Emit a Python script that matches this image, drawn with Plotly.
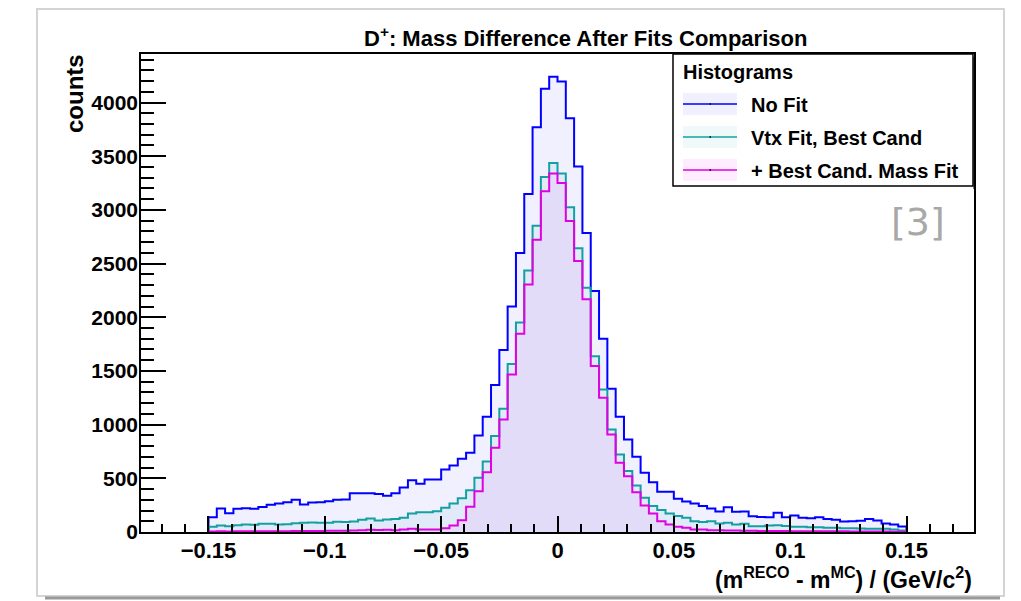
import numpy as np
import plotly.graph_objects as go

# ---------------- data ----------------
x_min, x_max, n_bins = -0.15, 0.15, 84

no_fit = [138, 219, 175, 216, 222, 216, 234, 253, 266, 278, 300, 256, 275, 278, 287, 300,
          303, 360, 362, 362, 354, 337, 362, 414, 483, 449, 489, 489, 582, 620, 682, 738,
          899, 1073, 1368, 1694, 2101, 2598, 3148, 3769, 4129, 4241, 4195, 3853, 3405, 2784,
          2244, 1800, 1334, 1073, 862, 701, 552, 464, 374, 374, 309, 284, 266, 241, 219, 190,
          231, 188, 191, 146, 140, 138, 179, 138, 154, 132, 129, 138, 120, 113, 98, 101, 104,
          120, 107, 79, 70, 51]

vtx_fit = [48, 61, 54, 64, 70, 67, 76, 76, 70, 73, 82, 85, 89, 85, 85, 95, 92, 98, 113, 126,
           107, 116, 120, 132, 172, 185, 185, 194, 225, 266, 315, 390, 505, 657, 893, 1148,
           1564, 1952, 2436, 2853, 3306, 3437, 3338, 3024, 2642, 2275, 1638, 1328, 955, 722,
           567, 433, 318, 241, 205, 172, 148, 132, 101, 92, 101, 79, 85, 70, 76, 54, 54, 61,
           64, 57, 48, 48, 45, 45, 39, 39, 36, 36, 33, 30, 30, 30, 23, 14]

mass_fit = [5, 6, 5, 7, 6, 6, 8, 7, 8, 8, 9, 10, 9, 10, 11, 12, 12, 14, 17, 20, 18, 20, 17,
            23, 30, 23, 23, 23, 35, 60, 110, 235, 380, 557, 784, 1048, 1468, 1847, 2306, 2722,
            3173, 3338, 3251, 2897, 2524, 2167, 1545, 1250, 908, 644, 520, 371, 247, 172, 101,
            70, 48, 39, 23, 23, 17, 17, 15, 14, 12, 12, 10, 10, 9, 9, 8, 8, 7, 7, 6, 6, 6, 5,
            5, 5, 4, 4, 3, 3]

series_names = ["No Fit", "Vtx Fit, Best Cand", "+ Best Cand. Mass Fit"]
line_colors = ["#0000ff", "#14a0a0", "#e000e0"]
fill_colors = ["rgba(0,0,255,0.06)", "rgba(0,150,150,0.06)", "rgba(255,0,255,0.06)"]

# ---------------- geometry ----------------
OFF = 8  # page body margin
W, H = 1021 - OFF, 601 - OFF
PL, PR, PT, PB = 141, 974, 54, 532  # target plot frame (window pixels)
ML, MR, MT, MB = PL - OFF, W - (PR - OFF), PT - OFF, H - (PB - OFF)
PW, PH = W - ML - MR, H - MT - MB


def px(x):
    return (x - OFF - ML) / PW


def py(y):
    return (H - MB - (y - OFF)) / PH


FONT = "Liberation Sans"
edges = np.linspace(x_min, x_max, n_bins + 1)

fig = go.Figure()
for vals, name, lc, fc in zip([no_fit, vtx_fit, mass_fit], series_names, line_colors, fill_colors):
    xs = np.concatenate([[edges[0]], edges])
    ys = np.concatenate([[0], vals, [0]])
    fig.add_trace(go.Scatter(x=xs, y=ys, mode="lines", line=dict(color=lc, width=2, shape="hv"),
                             fill="tozeroy", fillcolor=fc, name=name, showlegend=False,
                             hoverinfo="skip"))

axis_common = dict(showline=True, linecolor="black", linewidth=1.5, mirror=True,
                   ticks="inside", tickcolor="black", showgrid=False, zeroline=False)

fig.update_xaxes(range=[-0.179, 0.179], tick0=0, dtick=0.05, ticklen=16, tickwidth=1.5,
                 ticklabelstandoff=-2,
                 tickfont=dict(family=FONT, size=22, color="black", weight="bold"),
                 minor=dict(ticks="inside", dtick=0.01, tick0=0, ticklen=8, tickcolor="black",
                            tickwidth=1.5, showgrid=False),
                 **axis_common)
fig.update_yaxes(range=[0, 4452], tick0=0, dtick=500, ticklen=25, tickwidth=1.5,
                 exponentformat="none", ticklabelstandoff=-3,
                 tickfont=dict(family=FONT, size=21, color="black", weight="bold"),
                 minor=dict(ticks="inside", dtick=100, tick0=0, ticklen=13, tickcolor="black",
                            tickwidth=1.5, showgrid=False),
                 **axis_common)

ann = []
# title
ann.append(dict(text="D<sup>+</sup>: Mass Difference After Fits Comparison", x=px(585), y=py(37),
                xref="paper", yref="paper", showarrow=False, xanchor="center", yanchor="middle",
                font=dict(family=FONT, size=22, color="black", weight="bold")))
# axis titles
ann.append(dict(text="counts", x=px(74), y=py(94), xref="paper", yref="paper", showarrow=False,
                textangle=-90, xanchor="center", yanchor="middle",
                font=dict(family=FONT, size=24, color="black", weight="bold")))
ann.append(dict(text="(m<sup>RECO</sup> - m<sup>MC</sup>) / (GeV/c<sup>2</sup>)", x=px(974),
                y=py(578), xref="paper", yref="paper", showarrow=False, xanchor="right",
                yanchor="middle", font=dict(family=FONT, size=23, color="black", weight="bold")))
# reference mark
ann.append(dict(text="[3]", x=px(918), y=py(222), xref="paper", yref="paper", showarrow=False,
                xanchor="center", yanchor="middle",
                font=dict(family="DejaVu Sans", size=38, color="#a8a8a8")))

shapes = []
# legend box
lx0, lx1, ly0, ly1 = 673, 973, 54, 186
shapes.append(dict(type="rect", xref="paper", yref="paper", x0=px(lx0), x1=px(lx1), y0=py(ly1),
                   y1=py(ly0), fillcolor="white", line=dict(color="black", width=1.5)))
shapes.append(dict(type="line", xref="paper", yref="paper", x0=px(lx1 + 1.5), x1=px(lx1 + 1.5),
                   y0=py(ly1 + 3), y1=py(ly0 + 3), line=dict(color="black", width=2)))
ann.append(dict(text="Histograms", x=px(681), y=py(72), xref="paper", yref="paper",
                showarrow=False, xanchor="left", yanchor="middle",
                font=dict(family=FONT, size=20, color="black", weight="bold")))
entry_y = [104, 137, 170]
sample_fill = ["rgba(0,0,255,0.06)", "rgba(0,150,150,0.06)", "rgba(255,0,255,0.07)"]
for ey, name, lc, fc in zip(entry_y, series_names, line_colors, sample_fill):
    shapes.append(dict(type="rect", xref="paper", yref="paper", x0=px(683), x1=px(737),
                       y0=py(ey + 11), y1=py(ey - 11), fillcolor=fc, line=dict(width=0)))
    shapes.append(dict(type="line", xref="paper", yref="paper", x0=px(683), x1=px(737),
                       y0=py(ey), y1=py(ey), line=dict(color=lc, width=1.5)))
    shapes.append(dict(type="rect", xref="paper", yref="paper", x0=px(709.5), x1=px(711),
                       y0=py(ey + 0.8), y1=py(ey - 0.8), fillcolor="black",
                       line=dict(width=0)))
    ann.append(dict(text=name, x=px(749), y=py(ey + 1), xref="paper", yref="paper",
                    showarrow=False, xanchor="left", yanchor="middle",
                    font=dict(family=FONT, size=20, color="black", weight="bold")))

# slide frame decoration
shapes.append(dict(type="rect", xref="paper", yref="paper", x0=px(37), x1=px(1004), y0=py(596),
                   y1=py(9), line=dict(color="#d4d4d4", width=2), fillcolor="rgba(0,0,0,0)",
                   layer="below"))
shapes.append(dict(type="line", xref="paper", yref="paper", x0=px(45), x1=px(1000), y0=py(598),
                   y1=py(598), line=dict(color="#9a9a9a", width=3)))

fig.update_layout(width=W, height=H, margin=dict(l=ML, r=MR, t=MT, b=MB),
                  paper_bgcolor="white", plot_bgcolor="white", showlegend=False,
                  annotations=ann, shapes=shapes)

fig.write_html("out.html")
